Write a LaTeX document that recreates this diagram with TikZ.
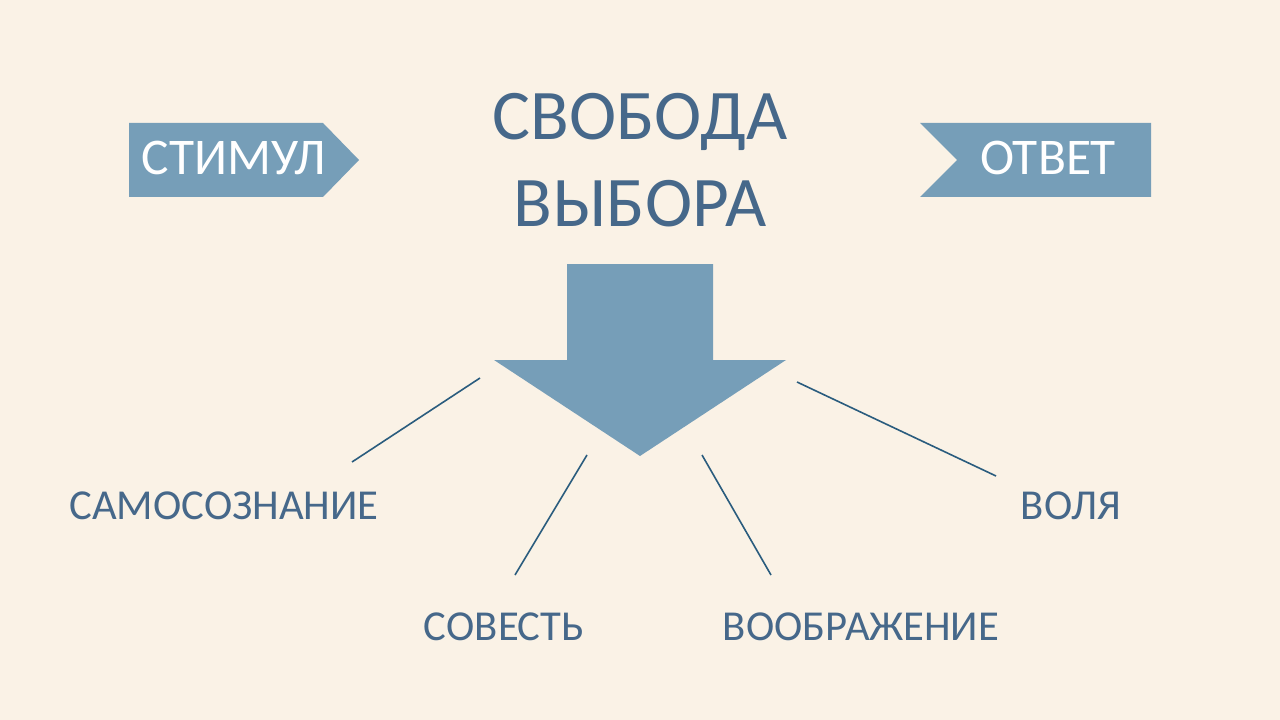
\documentclass[tikz,border=0pt]{standalone}
\usepackage{fontspec}
\setmainfont{Carlito}
\usepackage{xcolor}
\definecolor{bgcream}{HTML}{FAF2E6}
\definecolor{boxblue}{HTML}{769EB8}
\definecolor{txtblue}{HTML}{46688A}
\definecolor{lineblue}{HTML}{2A5C7E}

\begin{document}
\begin{tikzpicture}[x=0.75pt,y=-0.75pt,
    word/.style={text=txtblue,font=\fontsize{32}{38}\selectfont,inner sep=0pt,anchor=base},
    tagtext/.style={text=white,font=\fontsize{38.6}{46}\selectfont,inner sep=0pt,anchor=base},
    link/.style={lineblue,line width=1.2pt}]
    \fill[bgcream] (0,0) rectangle (1280,720);
    % tags
    \fill[boxblue] (129,123)--(323,123)--(359,160)--(323,197)--(129,197)--cycle;
    \fill[boxblue] (920,123)--(1151,123)--(1151,197)--(920,197)--(957,160)--cycle;
    \node[tagtext] (stim) at (234,175) {СТИМУЛ};
    \node[tagtext] (otv) at (1048,175) {ОТВЕТ};
    % title
    \node[word,font=\fontsize{53.4}{65}\selectfont] (svob) at (640,140) {СВОБОДА};
    \node[word,font=\fontsize{53.4}{65}\selectfont] (vyb) at (640,227) {ВЫБОРА};
    % big arrow
    \fill[boxblue] (567,264)--(713,264)--(713,360)--(786,360)--(640,456)--(494,360)--(567,360)--cycle;
    % labels
    \node[word] (samo) at (224,519) {САМОСОЗНАНИЕ};
    \node[word] (sov) at (504,640) {СОВЕСТЬ};
    \node[word] (voob) at (861,640) {ВООБРАЖЕНИЕ};
    \node[word] (volya) at (1071,519) {ВОЛЯ};
    % lines
    \coordinate (a1) at (480,378); \coordinate (a2) at (352,462);
    \coordinate (b1) at (587,455); \coordinate (b2) at (515,575);
    \coordinate (c1) at (702,455); \coordinate (c2) at (771,575);
    \coordinate (d1) at (797,382); \coordinate (d2) at (996,476);
    \draw[link] (a1)--(a2);
    \draw[link] (b1)--(b2);
    \draw[link] (c1)--(c2);
    \draw[link] (d1)--(d2);
\end{tikzpicture}
\end{document}
